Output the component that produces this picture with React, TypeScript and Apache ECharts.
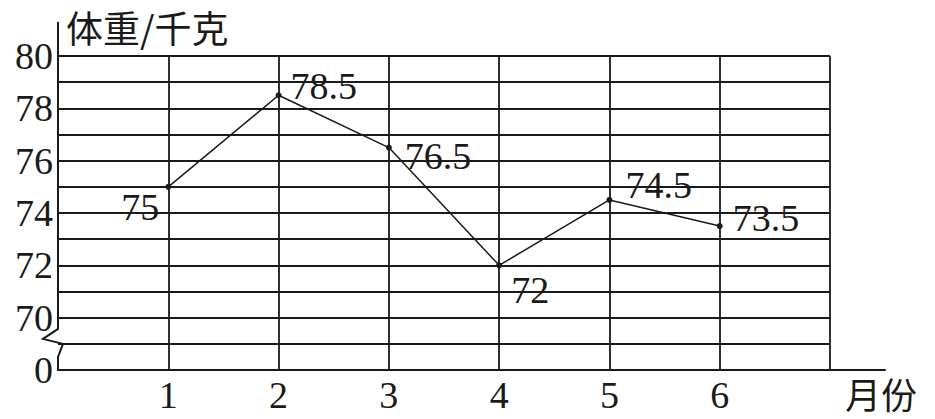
import React, { useEffect, useRef } from "react";
import * as echarts from "echarts";

const months = [1, 2, 3, 4, 5, 6];
const weights = [75, 78.5, 76.5, 72, 74.5, 73.5];
const yTickLabels: Record<number, string> = { 68: "0", 70: "70", 72: "72", 74: "74", 76: "76", 78: "78", 80: "80" };
const xTickLabels: Record<number, string> = { 1: "1", 2: "2", 3: "3", 4: "4", 5: "5", 6: "6" };
const yName = "体重/千克";
const xName = "月份";

const labelPlacement = [
  { position: "left", distance: 6, offset: [0, 20] },
  { position: "right", distance: 9, offset: [0, -9] },
  { position: "right", distance: 13, offset: [0, 8] },
  { position: "right", distance: 9, offset: [0, 25] },
  { position: "right", distance: 13, offset: [0, -15] },
  { position: "right", distance: 10, offset: [0, -8] },
];

const INK = "#1a1a1a";
const SERIF = "Liberation Serif";
const CJK = "Noto Sans CJK SC";

export default function App() {
  const ref = useRef<HTMLDivElement>(null);
  useEffect(() => {
    if (!ref.current) return;
    const chart = echarts.init(ref.current, null, { renderer: "svg" });
    const option: any = {
      animation: false,
      backgroundColor: "#ffffff",
      textStyle: { fontFamily: SERIF },
      grid: [
        { left: 58, right: 105, top: 56, bottom: 49 },
        { left: 58, right: 50, top: 56, bottom: 49 },
      ],
      xAxis: [
        {
          type: "value",
          gridIndex: 0,
          min: 0,
          max: 7,
          interval: 1,
          axisLine: { show: true, lineStyle: { color: INK, width: 2 } },
          axisTick: { show: false },
          axisLabel: {
            color: INK,
            fontFamily: SERIF,
            fontSize: 38,
            margin: 6,
            formatter: (v: number) => xTickLabels[v] ?? "",
          },
          splitLine: { show: true, showMinLine: false, lineStyle: { color: INK, width: 1.8 } },
        },
        {
          type: "value",
          gridIndex: 1,
          min: 0,
          max: 1,
          axisLine: { show: true, lineStyle: { color: INK, width: 2 } },
          axisTick: { show: false },
          axisLabel: { show: false },
          splitLine: { show: false },
          name: xName,
          nameLocation: "end",
          nameGap: -40,
          nameTextStyle: {
            color: INK,
            fontFamily: CJK,
            fontSize: 36,
            align: "left",
            verticalAlign: "top",
            padding: [5, 0, 0, 0],
          },
        },
      ],
      yAxis: [
        {
          type: "value",
          gridIndex: 0,
          min: 68,
          max: 80,
          interval: 1,
          axisLine: { show: false },
          axisTick: { show: false },
          axisLabel: {
            color: INK,
            margin: 5,
            formatter: (v: number) => (yTickLabels[v] ? "{n|" + yTickLabels[v] + "}" : ""),
            rich: { n: { fontFamily: SERIF, fontSize: 38, color: INK } },
          },
          splitLine: { show: true, lineStyle: { color: INK, width: 1.8 } },
          name: yName,
          nameLocation: "end",
          nameGap: 11,
          nameTextStyle: {
            color: INK,
            fontFamily: CJK,
            fontSize: 37,
            align: "left",
            verticalAlign: "bottom",
            padding: [0, 0, 0, 8],
          },
        },
        { type: "value", gridIndex: 1, show: false, min: 0, max: 1 },
      ],
      series: [
        {
          type: "line",
          xAxisIndex: 0,
          yAxisIndex: 0,
          data: months.map((m, i) => ({
            value: [m, weights[i]],
            label: labelPlacement[i],
          })),
          symbol: "circle",
          symbolSize: 6,
          itemStyle: { color: INK },
          lineStyle: { color: INK, width: 1.5 },
          label: {
            show: true,
            color: INK,
            formatter: (p: any) => "{n|" + p.value[1] + "}",
            rich: { n: { fontFamily: SERIF, fontSize: 38, color: INK } },
          },
        },
      ],
    };
    chart.setOption(option);

    const px = (v: number) => chart.convertToPixel({ xAxisIndex: 0, yAxisIndex: 0 }, [0, v]) as number[];
    const top = px(80);
    const x0 = top[0];
    const topY = top[1] - 34;
    const a = px(69.57);
    const b = px(69.19);
    const c = px(69.0);
    const d = px(68.5);
    const e = px(68);
    chart.setOption({
      graphic: [
        {
          type: "polyline",
          shape: { points: [[x0, topY], [x0, a[1]], [x0 - 15, b[1]], [x0 + 5, c[1]], [x0, d[1]], [x0, e[1]]] },
          style: { stroke: INK, lineWidth: 2, fill: "none" },
          z: 10,
        },
      ],
    });
    return () => chart.dispose();
  }, []);
  return (
    <div
      ref={ref}
      style={{ position: "fixed", left: 0, top: 0, width: 935, height: 419, background: "#fff" }}
    />
  );
}
